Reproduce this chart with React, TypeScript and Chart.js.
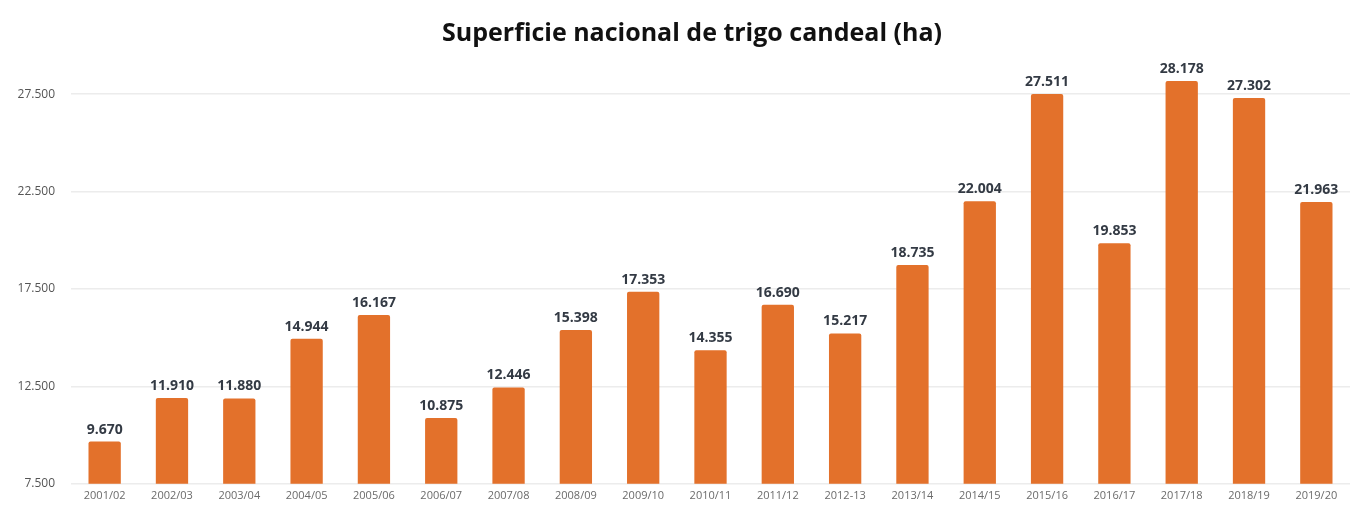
import React, { useEffect, useRef } from "react";
import { Chart, registerables } from "chart.js";

Chart.register(...registerables);

const TITLE = "Superficie nacional de trigo candeal (ha)";
const categories = [
  "2001/02", "2002/03", "2003/04", "2004/05", "2005/06", "2006/07", "2007/08",
  "2008/09", "2009/10", "2010/11", "2011/12", "2012-13", "2013/14", "2014/15",
  "2015/16", "2016/17", "2017/18", "2018/19", "2019/20",
];
const values = [
  9670, 11910, 11880, 14944, 16167, 10875, 12446, 15398, 17353, 14355, 16690,
  15217, 18735, 22004, 27511, 19853, 28178, 27302, 21963,
];
const yTicks = [7500, 12500, 17500, 22500, 27500];

const fmt = (v: number) => String(Math.round(v)).replace(/\B(?=(\d{3})+(?!\d))/g, ".");

const labelPlugin = {
  id: "valueLabels",
  afterDatasetsDraw(chart: any) {
    const ctx = chart.ctx;
    const meta = chart.getDatasetMeta(0);
    ctx.save();
    ctx.font = "bold 14px 'Open Sans', sans-serif";
    ctx.fillStyle = "#333a44";
    ctx.textAlign = "center";
    ctx.textBaseline = "alphabetic";
    meta.data.forEach((bar: any, i: number) => {
      ctx.fillText(fmt(values[i]), bar.x, bar.y - 8);
    });
    ctx.restore();
  },
};

const titlePlugin = {
  id: "customTitle",
  afterDraw(chart: any) {
    const ctx = chart.ctx;
    ctx.save();
    ctx.font = "bold 25px 'Open Sans', sans-serif";
    ctx.fillStyle = "#111111";
    ctx.textAlign = "center";
    ctx.textBaseline = "alphabetic";
    ctx.fillText(TITLE, 692, 41);
    ctx.restore();
  },
};

export default function App() {
  const ref = useRef<HTMLCanvasElement | null>(null);
  useEffect(() => {
    document.body.style.margin = "0";
    const chart = new Chart(ref.current as HTMLCanvasElement, {
      type: "bar",
      data: {
        labels: categories,
        datasets: [
          {
            data: values,
            backgroundColor: "#E3712B",
            borderRadius: { topLeft: 2, topRight: 2, bottomLeft: 0, bottomRight: 0 },
            borderSkipped: "bottom",
            barPercentage: 0.48,
            categoryPercentage: 1,
          },
        ],
      },
      options: {
        animation: false,
        responsive: false,
        maintainAspectRatio: false,
        layout: { padding: { top: 65, left: 8, right: 8, bottom: 0 } },
        plugins: { legend: { display: false }, tooltip: { enabled: false }, title: { display: false } },
        scales: {
          x: {
            grid: { display: false, drawTicks: false },
            border: { display: false },
            ticks: {
              color: "#6b6b6b",
              font: { size: 11, family: "'Open Sans', sans-serif" },
              padding: 5,
              maxRotation: 0,
              autoSkip: false,
            },
            afterFit: (s: any) => { s.height = 23; },
          },
          y: {
            min: 7500,
            max: 29000,
            grid: { color: "#ececec", drawTicks: false, lineWidth: 1.5 },
            border: { display: false },
            afterBuildTicks: (s: any) => { s.ticks = yTicks.map((v) => ({ value: v })); },
            ticks: {
              color: "#555555",
              font: { size: 12, family: "'Open Sans', sans-serif" },
              padding: 16,
              callback: (v: any) => fmt(Number(v)),
            },
            afterFit: (s: any) => { s.width = 63; },
          },
        },
      },
      plugins: [labelPlugin, titlePlugin],
    });
    return () => chart.destroy();
  }, []);
  return (
    <div style={{ width: 1358, height: 507, background: "#fff" }}>
      <canvas ref={ref} width={1358} height={507} style={{ display: "block" }} />
    </div>
  );
}
